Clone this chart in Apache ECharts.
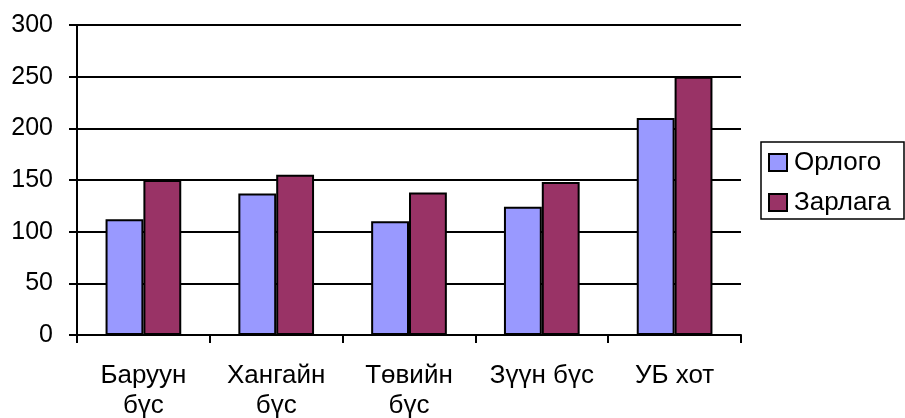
<!DOCTYPE html>
<html>
<head>
<meta charset="utf-8">
<script src="https://cdn.jsdelivr.net/npm/echarts@6/dist/echarts.min.js"></script>
<style>html,body{margin:0;padding:0;background:#fff}#c{width:905px;height:418px}</style>
</head>
<body>
<div id="c"></div>
<script>
const categories = ["Баруун\nбүс", "Хангайн\nбүс", "Төвийн\nбүс", "Зүүн бүс", "УБ хот"];
const seriesNames = ["Орлого", "Зарлага"];
const orlogo = [112, 137, 110, 124, 210];
const zarlaga = [150, 155, 138, 148, 250];
const yTicks = [0, 50, 100, 150, 200, 250, 300];

const FONT = "'Liberation Sans', Arial, sans-serif";
const chart = echarts.init(document.getElementById('c'), null, {renderer: 'canvas'});
chart.setOption({
  animation: false,
  backgroundColor: '#fff',
  textStyle: {fontFamily: FONT, color: '#000'},
  grid: {left: 77, right: 164, top: 25, bottom: 83, containLabel: false, outerBoundsMode: 'none'},
  legend: {
    orient: 'vertical',
    left: 761, top: 142,
    padding: [7, 6, 3, 7],
    borderColor: '#000', borderWidth: 1.5,
    itemWidth: 18, itemHeight: 17, itemGap: 13,
    icon: 'rect',
    textStyle: {fontFamily: FONT, fontSize: 26, color: '#000', lineHeight: 27, width: 104, padding: [0, 0, 0, 2]},
    data: seriesNames
  },
  xAxis: {
    type: 'category',
    data: categories,
    axisLine: {lineStyle: {color: '#000', width: 2}},
    axisTick: {show: true, length: 8, lineStyle: {color: '#000', width: 2}},
    axisLabel: {interval: 0, margin: 26, fontFamily: FONT, fontSize: 26, color: '#000', lineHeight: 30}
  },
  yAxis: {
    type: 'value',
    min: yTicks[0], max: yTicks[yTicks.length - 1], interval: 50,
    axisLine: {show: true, lineStyle: {color: '#000', width: 2}},
    axisTick: {show: true, length: 8, lineStyle: {color: '#000', width: 2}},
    axisLabel: {margin: 24, fontFamily: FONT, fontSize: 25, color: '#000'},
    splitLine: {show: true, lineStyle: {color: '#000', width: 2}}
  },
  series: [
    {name: seriesNames[0], type: 'bar', data: orlogo, barGap: '0%', barCategoryGap: '43%',
     itemStyle: {color: '#9999FF', borderColor: '#000', borderWidth: 2}},
    {name: seriesNames[1], type: 'bar', data: zarlaga, barGap: '0%', barCategoryGap: '43%',
     itemStyle: {color: '#993366', borderColor: '#000', borderWidth: 2}}
  ]
});
</script>
</body>
</html>
